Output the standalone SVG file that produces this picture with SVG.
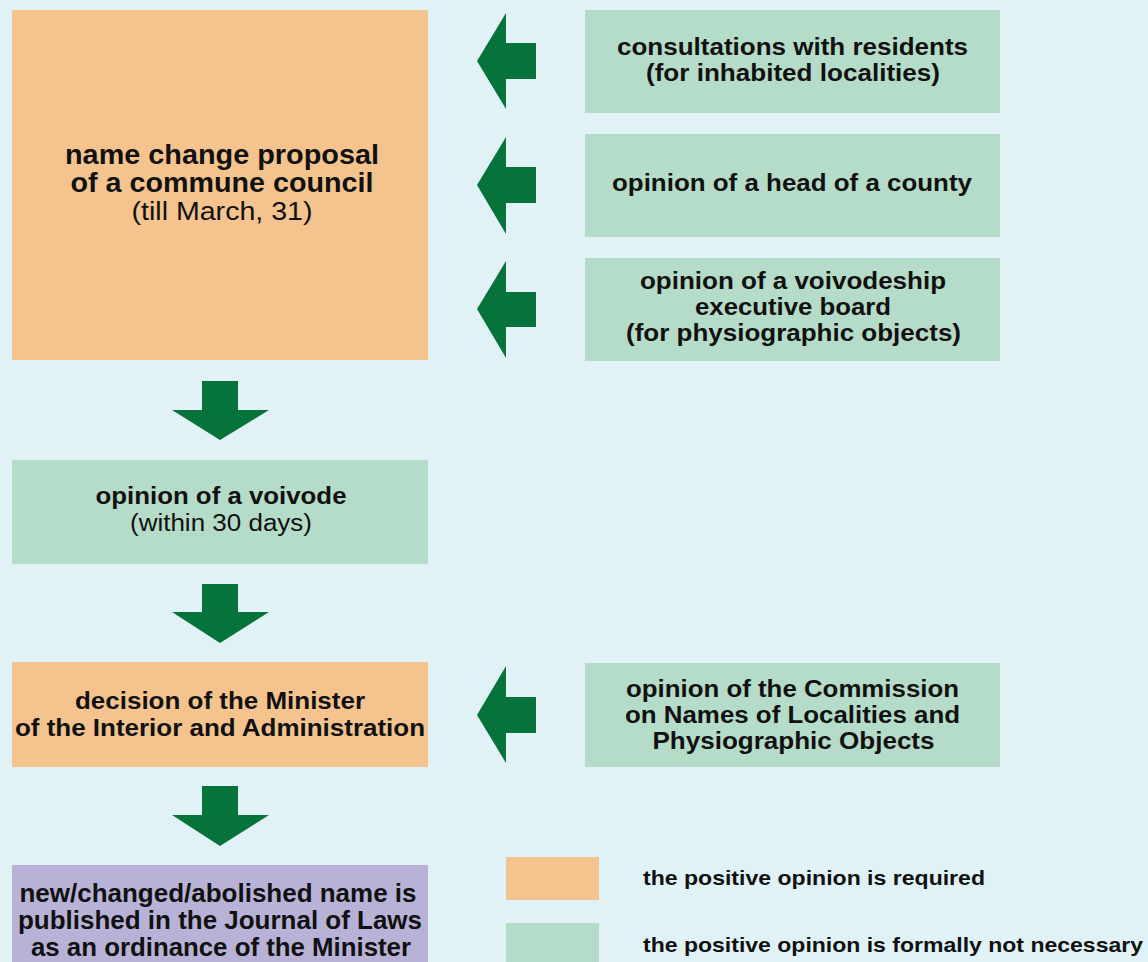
<svg xmlns="http://www.w3.org/2000/svg" width="1148" height="962" viewBox="0 0 1148 962">
<style>
.bg{fill:#e0f2f5}
.req{fill:#f5c48e}
.opt{fill:#b5dcc8}
.pub{fill:#b8b3d6}
.arr{fill:#05733a}
text{font-family:"Liberation Sans",Arial,sans-serif;fill:#111;text-anchor:middle}
.b{font-weight:bold}
.t22{font-size:23px}
.t26{font-size:27px}
.t24{font-size:25px}
.lg{font-size:21px;font-weight:bold;text-anchor:start}
</style>
<rect class="bg" x="0" y="0" width="1148" height="962"/>
<g id="proposal">
<rect class="req" x="12" y="10" width="416" height="350"/>
<text class="b t26" x="222" y="164" textLength="314" lengthAdjust="spacingAndGlyphs">name change proposal</text>
<text class="b t26" x="222" y="192" textLength="303" lengthAdjust="spacingAndGlyphs">of a commune council</text>
<text class="t24" x="222" y="220" textLength="181" lengthAdjust="spacingAndGlyphs">(till March, 31)</text>
</g>
<g id="consultations">
<rect class="opt" x="585" y="10" width="415" height="103"/>
<text class="b t22" x="792.5" y="55" textLength="351" lengthAdjust="spacingAndGlyphs">consultations with residents</text>
<text class="b t22" x="793" y="81" textLength="294" lengthAdjust="spacingAndGlyphs">(for inhabited localities)</text>
</g>
<g id="county">
<rect class="opt" x="585" y="134" width="415" height="103"/>
<text class="b t22" x="792" y="191" textLength="360" lengthAdjust="spacingAndGlyphs">opinion of a head of a county</text>
</g>
<g id="board">
<rect class="opt" x="585" y="258" width="415" height="103"/>
<text class="b t22" x="793" y="289" textLength="306" lengthAdjust="spacingAndGlyphs">opinion of a voivodeship</text>
<text class="b t22" x="793" y="315" textLength="196" lengthAdjust="spacingAndGlyphs">executive board</text>
<text class="b t22" x="793.5" y="341" textLength="335" lengthAdjust="spacingAndGlyphs">(for physiographic objects)</text>
</g>
<g id="voivode">
<rect class="opt" x="12" y="460" width="416" height="104"/>
<text class="b t22" x="221" y="504" textLength="251" lengthAdjust="spacingAndGlyphs">opinion of a voivode</text>
<text class="t22" x="221" y="531" textLength="182" lengthAdjust="spacingAndGlyphs">(within 30 days)</text>
</g>
<g id="decision">
<rect class="req" x="12" y="662" width="416" height="105"/>
<text class="b t22" x="220" y="709" textLength="290" lengthAdjust="spacingAndGlyphs">decision of the Minister</text>
<text class="b t22" x="220" y="736" textLength="410" lengthAdjust="spacingAndGlyphs">of the Interior and Administration</text>
</g>
<g id="commission">
<rect class="opt" x="585" y="663" width="415" height="104"/>
<text class="b t22" x="792.5" y="697" textLength="333" lengthAdjust="spacingAndGlyphs">opinion of the Commission</text>
<text class="b t22" x="792.5" y="723" textLength="335" lengthAdjust="spacingAndGlyphs">on Names of Localities and</text>
<text class="b t22" x="793.5" y="749" textLength="282" lengthAdjust="spacingAndGlyphs">Physiographic Objects</text>
</g>
<g id="published">
<rect class="pub" x="12" y="865" width="416" height="100"/>
<text class="b t24" x="218" y="902" textLength="397" lengthAdjust="spacingAndGlyphs">new/changed/abolished name is</text>
<text class="b t24" x="220" y="929" textLength="404" lengthAdjust="spacingAndGlyphs">published in the Journal of Laws</text>
<text class="b t24" x="221" y="956" textLength="380" lengthAdjust="spacingAndGlyphs">as an ordinance of the Minister</text>
</g>
<g id="legend">
<rect class="req" x="506" y="857" width="93" height="43"/>
<rect class="opt" x="506" y="923" width="93" height="45"/>
<text class="lg" x="643" y="885" textLength="342" lengthAdjust="spacingAndGlyphs">the positive opinion is required</text>
<text class="lg" x="643" y="952" textLength="500" lengthAdjust="spacingAndGlyphs">the positive opinion is formally not necessary</text>
</g>
<g id="connectors">
<polygon class="arr" points="477,61 506,13 506,43 536,43 536,79 506,79 506,109"/>
<polygon class="arr" points="477,185 506,137 506,167 536,167 536,203 506,203 506,234"/>
<polygon class="arr" points="477,309 506,261 506,292 536,292 536,327 506,327 506,358"/>
<polygon class="arr" points="477,715 506,666 506,697 536,697 536,733 506,733 506,763"/>
<polygon class="arr" points="202,381 238,381 238,410 269,410 220,440 172,410 202,410"/>
<polygon class="arr" points="202,584 238,584 238,612 269,612 220,643 172,612 202,612"/>
<polygon class="arr" points="202,786 238,786 238,815 269,815 220,846 172,815 202,815"/>
</g>
</svg>
